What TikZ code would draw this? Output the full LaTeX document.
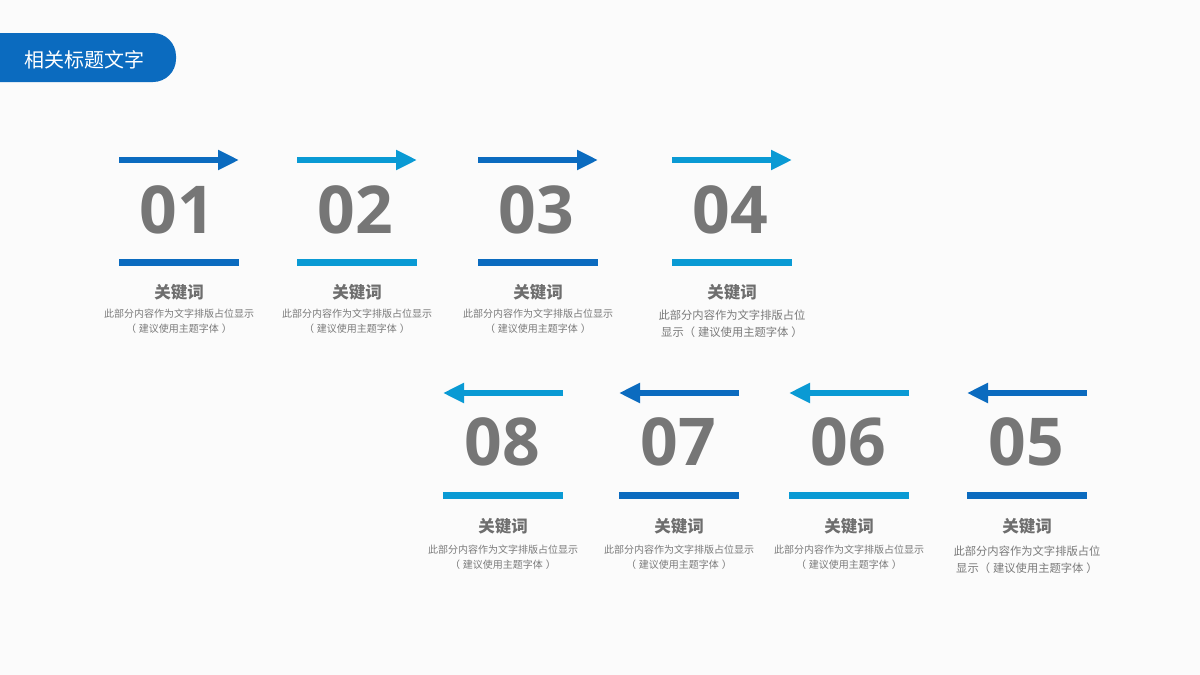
\documentclass[tikz,border=0pt]{standalone}
\usepackage{fontspec}
\setmainfont{Noto Sans CJK SC}
\newfontfamily\numfont{Open Sans}
\usetikzlibrary{arrows.meta}
\definecolor{dk}{HTML}{0B6BBF}
\definecolor{lt}{HTML}{0A9AD4}
\definecolor{numgray}{HTML}{767676}
\definecolor{kwgray}{HTML}{6E6E6E}
\definecolor{dsgray}{HTML}{7A7A7A}
\definecolor{bg}{HTML}{FBFBFB}
\tikzset{
  arr/.style={line width=6.5pt,-{Triangle[length=21pt,width=19pt]}},
  barline/.style={line width=7pt},
  numtxt/.style={text=numgray,font=\numfont\bfseries\fontsize{66}{66}\selectfont,inner sep=0pt},
  kwtxt/.style={text=kwgray,font=\bfseries\fontsize{16.5}{18}\selectfont,inner sep=0pt},
  dstxtS/.style={text=dsgray,font=\fontsize{10}{15}\selectfont,align=center,inner sep=0pt},
  dstxtW/.style={text=dsgray,font=\fontsize{11.3}{17}\selectfont,align=center,inner sep=0pt},
}
\newcommand{\lineS}{此部分内容作为文字排版占位显示\\（\hspace{3pt}建议使用主题字体\hspace{3pt}）}
\newcommand{\lineW}{此部分内容作为文字排版占位\\显示（\hspace{3pt}建议使用主题字体\hspace{3pt}）}
\begin{document}
\begin{tikzpicture}[x=1pt,y=-1pt]
\useasboundingbox (0,0) rectangle (1200,675);
\fill[bg] (0,0) rectangle (1200,675);
% title tab
\fill[dk,rounded corners=23pt] (-30,33) rectangle (176,82);
\node[text=white,font=\fontsize{20}{21}\selectfont,inner sep=0pt] (title) at (84,60) {相关标题文字};
% top row
\foreach \cx/\col/\num/\wide in {179/dk/01/0,357/lt/02/0,538/dk/03/0,732/lt/04/1}{
  \coordinate (s\num) at (\cx-60,160);
  \coordinate (e\num) at (\cx+60,160);
  \draw[arr,\col] (s\num) -- (e\num);
  \node[numtxt] (n\num) at (\cx-2,210) {\num};
  \coordinate (bl\num) at (\cx-60,262);
  \coordinate (br\num) at (\cx+60,262);
  \draw[barline,\col] (bl\num) -- (br\num);
  \node[kwtxt] (k\num) at (\cx,292) {关键词};
  \ifnum\wide=1
    \node[dstxtW] (d\num) at (\cx,323.5) {\lineW};
  \else
    \node[dstxtS] (d\num) at (\cx,321.5) {\lineS};
  \fi
}
% bottom row
\foreach \cx/\col/\num/\wide in {503/lt/08/0,679/dk/07/0,849/lt/06/0,1027/dk/05/1}{
  \coordinate (s\num) at (\cx+60,393);
  \coordinate (e\num) at (\cx-60,393);
  \draw[arr,\col] (s\num) -- (e\num);
  \node[numtxt] (n\num) at (\cx-1,442) {\num};
  \coordinate (bl\num) at (\cx-60,495);
  \coordinate (br\num) at (\cx+60,495);
  \draw[barline,\col] (bl\num) -- (br\num);
  \node[kwtxt] (k\num) at (\cx,526) {关键词};
  \ifnum\wide=1
    \node[dstxtW] (d\num) at (\cx,559.5) {\lineW};
  \else
    \node[dstxtS] (d\num) at (\cx,557.5) {\lineS};
  \fi
}
\end{tikzpicture}
\end{document}
